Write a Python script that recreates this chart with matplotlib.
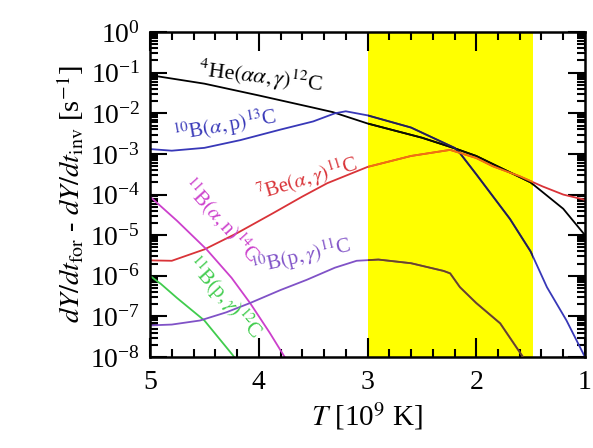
import numpy as np
import matplotlib
matplotlib.use('Agg')
import matplotlib.pyplot as plt
from matplotlib.ticker import LogLocator, MultipleLocator, NullFormatter

plt.rcParams['font.family'] = ['Liberation Serif', 'DejaVu Serif']
plt.rcParams['mathtext.fontset'] = 'stix'

# ---- data (T in 10^9 K, log10 of rate) ----
T_he = [5.0, 4.5, 4.0, 3.5, 3.32, 3.0, 2.5, 2.2, 2.0, 1.5, 1.2, 1.0]
L_he = [-1.06, -1.27, -1.56, -1.86, -1.97, -2.25, -2.6, -2.86, -3.05, -3.7, -4.35, -5.0]

T_ba = [5.0, 4.8, 4.5, 4.17, 3.8, 3.5, 3.3, 3.2, 3.0, 2.6, 2.2, 2.15, 2.0, 1.69, 1.5, 1.35, 1.17, 1.0]
L_ba = [-2.88, -2.92, -2.85, -2.66, -2.4, -2.2, -2.0, -1.95, -2.05, -2.35, -2.85, -2.98, -3.5, -4.6, -5.4, -6.28, -7.1, -8.0]

T_be = [5.0, 4.8, 4.5, 4.2, 3.87, 3.6, 3.37, 3.0, 2.6, 2.24, 2.0, 1.85, 1.6, 1.39, 1.2, 1.0]
L_be = [-5.62, -5.63, -5.35, -4.95, -4.46, -4.05, -3.72, -3.32, -3.05, -2.9, -3.1, -3.3, -3.55, -3.8, -4.0, -4.13]

T_ban = [5.0, 4.75, 4.48, 4.25, 4.08, 3.9, 3.75]
L_ban = [-4.05, -4.65, -5.35, -6.05, -6.67, -7.4, -8.05]

T_bpg = [5.0, 4.9, 4.75, 4.5, 4.24, 4.2]
L_bpg = [-6.0, -6.2, -6.55, -7.1, -7.95, -8.1]

T_b10 = [5.0, 4.8, 4.54, 4.3, 4.08, 3.8, 3.56, 3.3, 3.1, 2.9, 2.6, 2.3, 2.24, 2.15, 2.0, 1.78, 1.57, 1.5]
L_b10 = [-7.22, -7.2, -7.1, -6.9, -6.67, -6.35, -6.1, -5.8, -5.63, -5.6, -5.69, -5.88, -5.94, -6.28, -6.67, -7.17, -8.0, -8.3]

band = (3.0, 1.48)

# (T, log rate, colour, colour seen inside the yellow band)
series = [
    (T_he, L_he, (0, 0, 0), (0.05, 0.05, 0.0)),
    (T_ba, L_ba, (0.22, 0.22, 0.72), (0.15, 0.13, 0.3)),
    (T_be, L_be, (0.85, 0.2, 0.22), (0.95, 0.45, 0.05)),
    (T_ban, L_ban, (0.8, 0.25, 0.8), (0.8, 0.25, 0.8)),
    (T_bpg, L_bpg, (0.25, 0.8, 0.3), (0.25, 0.8, 0.3)),
    (T_b10, L_b10, (0.5, 0.32, 0.78), (0.42, 0.28, 0.12)),
]

fig = plt.figure(figsize=(5.93, 4.48), dpi=100)
ax = fig.add_axes([0.253, 0.203, 0.7335, 0.7254])

span = ax.axvspan(band[0], band[1], color=(1, 1, 0), lw=0, zorder=0)

for T, L, c, cb in series:
    y = 10.0 ** np.array(L)
    ax.plot(T, y, color=c, lw=1.3, zorder=2)
    ln, = ax.plot(T, y, color=cb, lw=1.3, zorder=3)
    ln.set_clip_path(span)

ax.set_yscale('log')
ax.set_xlim(5, 1)
ax.set_ylim(1e-8, 1)

ax.yaxis.set_major_locator(LogLocator(base=10, numticks=20))
ax.yaxis.set_minor_locator(LogLocator(base=10, subs=np.arange(2, 10), numticks=20))
ax.yaxis.set_minor_formatter(NullFormatter())
ax.xaxis.set_major_locator(MultipleLocator(1))
ax.xaxis.set_minor_locator(MultipleLocator(0.2))
ax.tick_params(which='both', direction='in', top=True, right=True, width=1.5)
ax.tick_params(which='major', length=14, labelsize=20)
ax.tick_params(axis='y', which='major', length=12, pad=7)
ax.tick_params(axis='x', which='major', pad=9)
ax.tick_params(which='minor', length=6)
for s in ax.spines.values():
    s.set_linewidth(1.8)

ax.set_xlabel(r'$T$ [10$^{9}$ K]', fontsize=21, labelpad=4)
ax.set_ylabel(r'$dY/dt_{\rm for}$ - $dY/dt_{\rm inv}$ [s$^{-1}$]', fontsize=20.5, labelpad=3)

lab = dict(fontsize=15, transform=ax.transData, rotation_mode='anchor')
ax.text(4.56, 10**-1.08, r'$^{4}$He$(\alpha\alpha,\gamma)^{12}$C', color='k', rotation=-7,
        fontsize=16, transform=ax.transData, rotation_mode='anchor')
ax.text(4.77, 10**-2.68, r'$^{10}$B$(\alpha,$p$)^{13}$C', color=(0.22, 0.22, 0.72), rotation=10, **lab)
ax.text(4.0, 10**-4.15, r'$^{7}$Be$(\alpha,\gamma)^{11}$C', color=(0.85, 0.2, 0.22), rotation=17, **lab)
ax.text(4.72, 10**-3.8, r'$^{11}$B$(\alpha,$n$)^{14}$C', color=(0.8, 0.25, 0.8), rotation=-48, **lab)
ax.text(4.05, 10**-5.95, r'$^{10}$B$($p$,\gamma)^{11}$C', color=(0.5, 0.32, 0.78), rotation=13, **lab)
ax.text(4.68, 10**-5.72, r'$^{11}$B$($p$,\gamma)^{12}$C', color=(0.25, 0.8, 0.3), rotation=-48, **lab)

fig.savefig('out.png', dpi=100)
